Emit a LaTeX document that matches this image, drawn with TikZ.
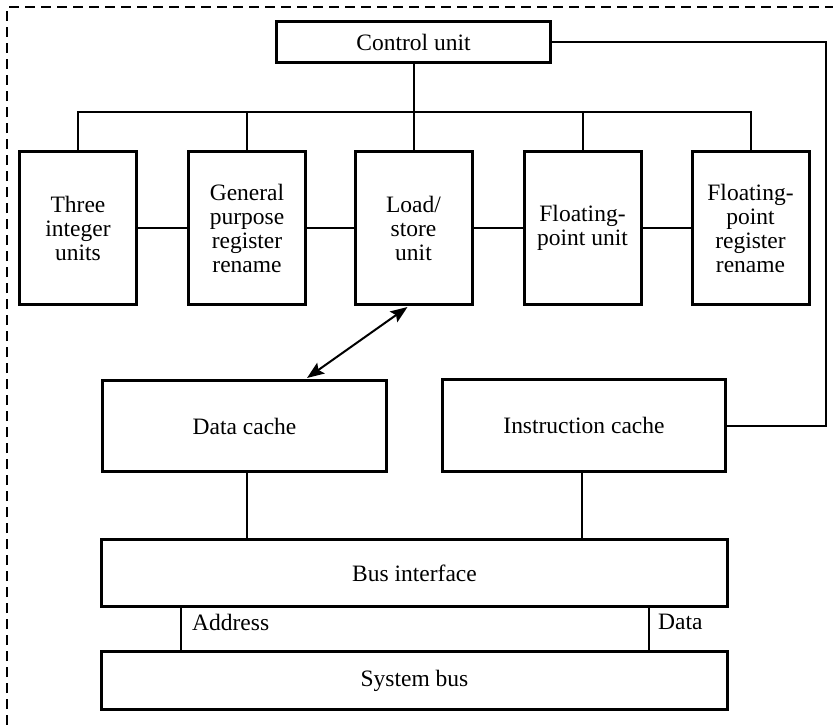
\documentclass[tikz,border=0pt]{standalone}
\usepackage{fontspec}
\setmainfont{Liberation Serif}
\usetikzlibrary{calc,arrows.meta}
\begin{document}
\begin{tikzpicture}[x=1pt,y=-1pt,
  unit/.style={draw,line width=3pt,inner sep=0pt,align=center,
    font=\fontsize{23.5}{24}\selectfont},
  tallbox/.style={unit,minimum width=117pt,minimum height=153pt},
  wire/.style={line width=2pt},
  bigtip/.tip={Stealth[length=17pt,width=13pt,inset=3pt]},
  frame/.style={line width=2pt,dash pattern=on 10pt off 6pt},
  lbl/.style={anchor=west,inner sep=0pt,font=\fontsize{23.5}{24}\selectfont}]
  \useasboundingbox (0,0) rectangle (833,725);
  % dashed enclosure (continues past the page edges)
  \draw[frame] (7,725) -- (7,7) -- (833,7);

  % control unit and execution units
  \node[unit,minimum width=274pt,minimum height=41pt] (cu) at (413.5,42) {Control unit};
  \node[tallbox] (tiu)  at (78,228)    {Three\\integer\\units};
  \node[tallbox] (gpr)  at (247,228)   {General\\purpose\\register\\rename};
  \node[tallbox] (ls)   at (413.5,228) {Load/\\store\\unit};
  \node[tallbox] (fpu)  at (582.5,228) {Floating-\\point unit};
  \node[tallbox] (fprr) at (750.5,228) {Floating-\\point\\register\\rename};

  % caches, bus interface, system bus
  \node[unit,minimum width=284pt,minimum height=91pt] (dc) at (244.5,426) {Data cache};
  \node[unit,minimum width=283pt,minimum height=92pt] (ic) at (584,425.5) {Instruction cache};
  \node[unit,minimum width=626pt,minimum height=67pt] (bi) at (414.5,573) {Bus interface};
  \node[unit,minimum width=626pt,minimum height=58pt] (sb) at (414.5,680.5) {System bus};

  % control distribution bus
  \coordinate (busy) at (0,112);
  \draw[wire] (cu.south) -- (ls.north);
  \draw[wire] (tiu.north) -- (tiu.north |- busy) -- (fprr.north |- busy) -- (fprr.north);
  \draw[wire] (gpr.north) -- (gpr.north |- busy);
  \draw[wire] (fpu.north) -- (fpu.north |- busy);

  % links between neighbouring units
  \draw[wire] (tiu.east) -- (gpr.west);
  \draw[wire] (gpr.east) -- (ls.west);
  \draw[wire] (ls.east) -- (fpu.west);
  \draw[wire] (fpu.east) -- (fprr.west);

  % control unit to instruction cache
  \draw[wire] (cu.east) -- ++(274,0) |- (ic.east);

  % load/store unit <-> data cache
  \draw[wire,bigtip-bigtip]
    ($(ls.south)+(-6,1)$) -- ($(dc.north)+(62.5,-1)$);

  % caches to bus interface
  \coordinate (dcout) at ($(dc.south)+(2.5,0)$);
  \coordinate (icout) at ($(ic.south)+(-2,0)$);
  \draw[wire] (dcout) -- (dcout |- bi.north);
  \draw[wire] (icout) -- (icout |- bi.north);

  % address and data lines
  \coordinate (adr) at ($(bi.south west)+(81,0)$);
  \coordinate (dat) at ($(bi.south west)+(549,0)$);
  \draw[wire] (adr) -- (adr |- sb.north);
  \draw[wire] (dat) -- (dat |- sb.north);
  \node[lbl] (adrl) at ($(adr)+(11,14)$) {Address};
  \node[lbl] (datl) at ($(dat)+(9,14)$) {Data};
\end{tikzpicture}
\end{document}
